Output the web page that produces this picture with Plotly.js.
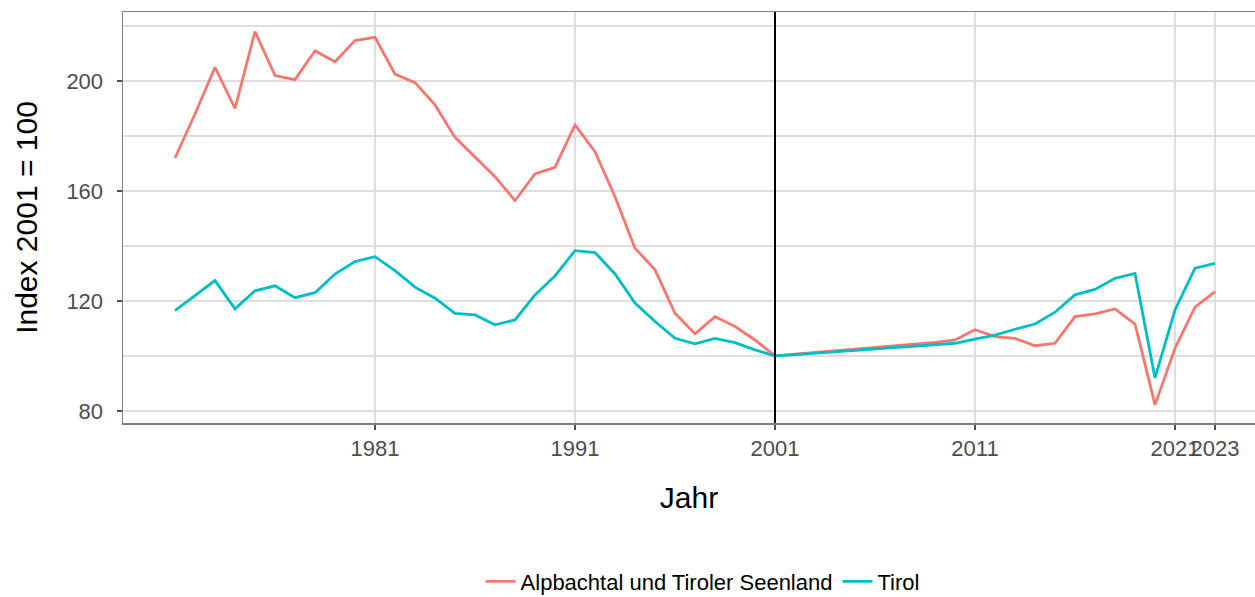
<!DOCTYPE html>
<html>
<head>
<meta charset="utf-8">
<script src="https://cdn.plot.ly/plotly-3.0.1.min.js"></script>
<style>html,body{margin:0;padding:0;background:#fff;}#chart{width:1255px;height:597px;}</style>
</head>
<body>
<div id="chart"></div>
<script>
const years = [];
for (let y = 1971; y <= 2023; y++) years.push(y);

const alpbachtal = [172, 188, 205, 190, 218, 202, 200.5, 211, 207, 214.7,
  215.9, 202.5, 199.4, 191.3, 179.5, 172.3, 165.2, 156.5, 166.2, 168.6,
  184, 174.3, 157.9, 139.2, 131.3, 115.5, 108, 114.3, 110.7, 105.8,
  100, 100.6, 101.2, 101.8, 102.4, 103, 103.6, 104.2, 104.9, 105.8,
  109.5, 107, 106.4, 103.7, 104.6, 114.3, 115.3, 117.1, 111.6, 82.2,
  102.8, 117.7, 123.4];

const tirol = [116.5, 121.8, 127.4, 117.1, 123.7, 125.5, 121.2, 123, 129.8, 134.3,
  136.1, 131, 125, 121, 115.5, 114.9, 111.3, 113.1, 122.2, 129.1,
  138.3, 137.6, 129.8, 119.2, 112.5, 106.4, 104.4, 106.4, 104.8, 102.2,
  100, 100.5, 101, 101.5, 102, 102.5, 103, 103.5, 104, 104.6,
  106.1, 107.6, 109.7, 111.6, 115.9, 122.2, 124.2, 128.2, 130, 92,
  116.7, 131.9, 133.7];

const seriesNames = ["Alpbachtal und Tiroler Seenland", "Tirol"];
const xTicks = [1981, 1991, 2001, 2011, 2021, 2023];
const yTicks = [80, 120, 160, 200];
const yMinor = [100, 140, 180, 220];
const refYear = 2001;

const font = "Liberation Sans, Arial, sans-serif";

const traces = [
  {x: years, y: alpbachtal, name: seriesNames[0], type: "scatter", mode: "lines",
   line: {color: "#F8766D", width: 2.8}},
  {x: years, y: tirol, name: seriesNames[1], type: "scatter", mode: "lines",
   line: {color: "#00BFC4", width: 2.8}}
];

const layout = {
  width: 1255, height: 597,
  margin: {l: 123, r: 0, t: 12, b: 174, autoexpand: false},
  paper_bgcolor: "#fff", plot_bgcolor: "#fff",
  font: {family: font, color: "#4d4d4d"},
  showlegend: true,
  legend: {orientation: "h", x: 0.512, xanchor: "center",
           yref: "container", y: 0.026, yanchor: "middle",
           font: {size: 22, color: "#000"}, traceorder: "normal"},
  xaxis: {
    range: [1968.4, 2025], tickvals: xTicks, ticktext: xTicks.map(String),
    tickangle: 0,
    showgrid: true, gridcolor: "#dedede", gridwidth: 1.2, zeroline: false,
    showline: true, linecolor: "#7f7f7f", linewidth: 1.5, mirror: true,
    ticks: "outside", ticklen: 5, tickcolor: "#4d4d4d", tickwidth: 1.2,
    ticklabelstandoff: 0,
    tickfont: {size: 22, color: "#4d4d4d"},
    title: {text: "Jahr", font: {size: 30, color: "#000"}, standoff: 27},
    automargin: false
  },
  yaxis: {
    range: [75.6, 225.1], tickvals: yTicks,
    showgrid: true, gridcolor: "#dedede", gridwidth: 1.2, zeroline: false,
    showline: true, linecolor: "#7f7f7f", linewidth: 1.5,
    ticks: "outside", ticklen: 5, tickcolor: "#4d4d4d", tickwidth: 1.2,
    ticklabelstandoff: 9,
    tickfont: {size: 22, color: "#4d4d4d"},
    minor: {tickvals: yMinor, showgrid: true, gridcolor: "#dedede", gridwidth: 1.2, ticks: ""},
    title: {text: "Index 2001 = 100", font: {size: 30, color: "#000"}, standoff: 20},
    automargin: false
  },
  shapes: [
    {type: "line", xref: "x", yref: "paper", x0: refYear, x1: refYear, y0: 0, y1: 1,
     line: {color: "#000", width: 2}}
  ]
};

Plotly.newPlot("chart", traces, layout, {displayModeBar: false, staticPlot: true});
</script>
</body>
</html>
